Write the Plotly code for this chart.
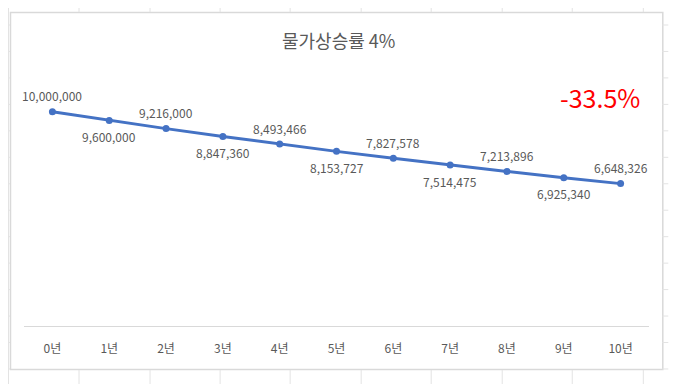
import plotly.graph_objects as go

# ---- data ----
categories = ["0년", "1년", "2년", "3년", "4년", "5년", "6년", "7년", "8년", "9년", "10년"]
values = [10000000, 9600000, 9216000, 8847360, 8493466, 8153727,
          7827578, 7514475, 7213896, 6925340, 6648326]
value_labels = ["10,000,000", "9,600,000", "9,216,000", "8,847,360", "8,493,466",
                "8,153,727", "7,827,578", "7,514,475", "7,213,896", "6,925,340", "6,648,326"]
title_text = "물가상승률 4%"
change_text = "-33.5%"

# ---- layout geometry (page pixels; the page body has an 8px margin) ----
OFF = 8
W, H = 677 - OFF, 384 - OFF
L, R, T, B = 24, 648.7, 69, 326          # plot area in page pixels
PW, PH = R - L, B - T


def px(x):
    return (x - L) / PW


def py(y):
    return (B - y) / PH


FONT = "Noto Sans CJK KR, Noto Sans, sans-serif"
LINE_BLUE = "#4472C4"
TEXT_GRAY = "#595959"

fig = go.Figure()
fig.add_trace(go.Scatter(
    x=list(range(len(categories))), y=values,
    mode="lines+markers",
    line=dict(color=LINE_BLUE, width=3),
    marker=dict(color=LINE_BLUE, size=7),
    hoverinfo="skip", showlegend=False,
))

annotations = []
for i, (v, lab) in enumerate(zip(values, value_labels)):
    annotations.append(dict(
        x=i, y=v, xref="x", yref="y", text=lab, showarrow=False,
        yshift=16 if i % 2 == 0 else -16,
        font=dict(family=FONT, size=12, color=TEXT_GRAY),
        xanchor="center", yanchor="middle",
    ))

annotations.append(dict(
    x=px(338), y=py(40), xref="paper", yref="paper", text=title_text,
    showarrow=False, xanchor="center", yanchor="middle",
    font=dict(family=FONT, size=18, color=TEXT_GRAY),
))
annotations.append(dict(
    x=px(600), y=py(97), xref="paper", yref="paper", text=change_text,
    showarrow=False, xanchor="center", yanchor="middle",
    font=dict(family=FONT, size=25, color="#FF0000"),
))

shapes = []
SHEET = "#E3E3E3"
# spreadsheet column lines outside chart
cols = [79, 150, 220, 290, 361, 431, 502, 572, 643]
for cx in cols:
    shapes.append(dict(type="line", xref="paper", yref="paper",
                       x0=px(cx), x1=px(cx), y0=py(4), y1=py(12),
                       line=dict(color=SHEET, width=1)))
    shapes.append(dict(type="line", xref="paper", yref="paper",
                       x0=px(cx), x1=px(cx), y0=py(370), y1=py(384),
                       line=dict(color=SHEET, width=1)))
shapes.append(dict(type="line", xref="paper", yref="paper",
                   x0=px(8.5), x1=px(8.5), y0=py(4), y1=py(384),
                   line=dict(color=SHEET, width=1)))
# spreadsheet row lines outside chart
for k in range(14):
    ry = 25 + 26.46 * k
    shapes.append(dict(type="line", xref="paper", yref="paper",
                       x0=px(5), x1=px(10), y0=py(ry), y1=py(ry),
                       line=dict(color=SHEET, width=1)))
    shapes.append(dict(type="line", xref="paper", yref="paper",
                       x0=px(662), x1=px(668), y0=py(ry), y1=py(ry),
                       line=dict(color=SHEET, width=1)))
# chart area border
shapes.append(dict(type="rect", xref="paper", yref="paper",
                   x0=px(10.5), x1=px(662.5), y0=py(12.5), y1=py(369.5),
                   line=dict(color="#D9D9D9", width=1.5), layer="below"))

fig.update_layout(
    width=W, height=H,
    margin=dict(l=L - OFF, r=(W + OFF) - R, t=T - OFF, b=(H + OFF) - B, pad=0),
    paper_bgcolor="white", plot_bgcolor="white",
    font=dict(family=FONT, color=TEXT_GRAY),
    xaxis=dict(
        range=[-0.5, 10.5], tickmode="array",
        tickvals=list(range(len(categories))), ticktext=categories,
        showgrid=False, zeroline=False,
        showline=True, linecolor="#D9D9D9", linewidth=1,
        ticks="outside", ticklen=12, tickcolor="rgba(0,0,0,0)",
        tickfont=dict(family=FONT, size=12, color=TEXT_GRAY),
        fixedrange=True,
    ),
    yaxis=dict(range=[0, 12000000], visible=False, showgrid=False,
               zeroline=False, fixedrange=True),
    annotations=annotations,
    shapes=shapes,
)

fig.write_html("out.html")
